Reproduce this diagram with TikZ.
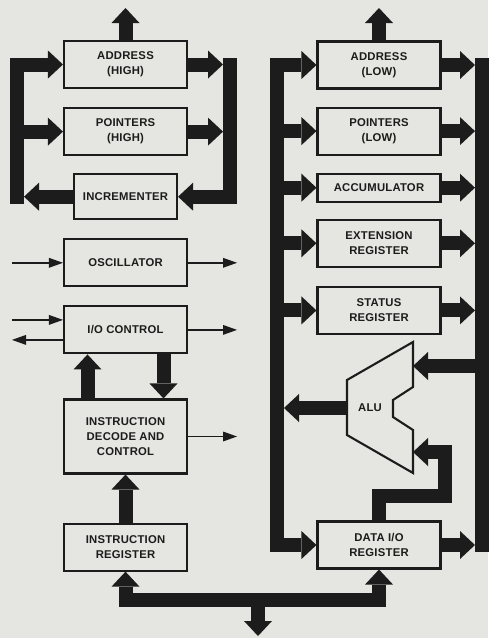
\documentclass[tikz,border=0pt]{standalone}
\usepackage{fontspec}
\newfontfamily\blockfont{Liberation Sans}[LetterSpace=2]
\usepackage{tikz}
\usetikzlibrary{arrows.meta, positioning}
\definecolor{paper}{RGB}{229,229,225}
\definecolor{ink}{RGB}{28,28,28}

\begin{document}
\begin{tikzpicture}[x=1pt, y=1pt,
    block/.style={rectangle, draw=ink, line width=2.1pt, minimum width=123pt, minimum height=47pt, align=center, inner sep=2pt, text=ink, font=\blockfont\bfseries\fontsize{11.3}{15}\selectfont},
    bus/.style={draw=ink, line width=14pt, line cap=rect},
    busarr/.style={draw=ink, line width=14pt, -{Triangle[width=28pt, length=15pt, line width=0pt]}},
    sig/.style={draw=ink, line width=1.9pt, -{Triangle[width=10pt, length=14pt, line width=0pt]}},
    node distance=18pt
]
\fill[paper] (0,0) rectangle (488,-638);
\useasboundingbox (0,0) rectangle (488,-638);

\node[block] (adrh) at (125.5,-64.5) {ADDRESS\\(HIGH)};
\node[block, below=of adrh] (ptrh) {POINTERS\\(HIGH)};
\node[block, below=17pt of ptrh, minimum width=103pt, minimum height=45pt] (inc) {INCREMENTER};
\node[block, below=of inc] (osc) {OSCILLATOR};
\node[block, below=of osc] (ioc) {I/O CONTROL};
\node[block, below=44pt of ioc, minimum height=74pt] (idc) {INSTRUCTION\\DECODE AND\\CONTROL};
\node[block, below=48pt of idc] (ir) {INSTRUCTION\\REGISTER};

\node[block] (adrl) at (379,-65) {ADDRESS\\(LOW)};
\node[block, below=17pt of adrl] (ptrl) {POINTERS\\(LOW)};
\node[block, below=17pt of ptrl, minimum height=28pt] (acc) {ACCUMULATOR};
\node[block, below=16pt of acc] (ext) {EXTENSION\\REGISTER};
\node[block, below=of ext] (stat) {STATUS\\REGISTER};
\node[block] (dio) at (379,-545) {DATA I/O\\REGISTER};

\coordinate (alu) at (380,-407.5);
\draw[ink, line width=2.1pt, shift={(alu)}] (-33,27.5) -- (33,65.5) -- (33,20.5) -- (13,7.5) -- (13,-9.5) -- (33,-22.5) -- (33,-65.5) -- (-33,-27.5) -- cycle;
\node[text=ink, font=\blockfont\bfseries\fontsize{11.3}{15}\selectfont] (alutxt) at (370,-408) {ALU};
\coordinate (aluin) at (413,-366);
\coordinate (aluout) at (347,-408);
\coordinate (aluback) at (413,-452);

\coordinate (top) at (0,-8);
\coordinate (hlbar) at (17,0);
\coordinate (hlbedge) at (24,0);
\coordinate (hrbar) at (230,0);
\coordinate (hrbedge) at (223,0);
\coordinate (sigin) at (12,0);
\coordinate (sigout) at (237,0);
\coordinate (lbar) at (277,0);
\coordinate (lbedge) at (284,0);
\coordinate (rbar) at (482,0);
\coordinate (rbedge) at (475,0);
\coordinate (bbus) at (0,-600);
\coordinate (dout) at (258,-636);

\draw[busarr] (adrh.north) -- (adrh.north |- top);
\draw[busarr] (adrl.north) -- (adrl.north |- top);

\draw[bus] (adrh.west -| hlbar) -- (inc.west -| hlbar);
\draw[bus] (adrh.east -| hrbar) -- (inc.east -| hrbar);
\draw[busarr] (adrh.west -| hlbar) -- (adrh.west);
\draw[busarr] (ptrh.west -| hlbar) -- (ptrh.west);
\draw[busarr] (adrh.east) -- (adrh.east -| hrbedge);
\draw[busarr] (ptrh.east) -- (ptrh.east -| hrbedge);
\draw[busarr] (inc.east -| hrbar) -- (inc.east);
\draw[busarr] (inc.west) -- (inc.west -| hlbedge);

\draw[sig] (osc.west -| sigin) -- (osc.west);
\draw[sig] (osc.east) -- (osc.east -| sigout);
\draw[sig] ([yshift=10pt]ioc.west -| sigin) -- ([yshift=10pt]ioc.west);
\draw[sig] ([yshift=-10pt]ioc.west) -- ([yshift=-10pt]ioc.west -| sigin);
\draw[sig] (ioc.east) -- (ioc.east -| sigout);
\draw[sig] (idc.east) -- (idc.east -| sigout);

\draw[busarr] ([xshift=-38pt]idc.north) -- ([xshift=-38pt]ioc.south);
\draw[busarr] ([xshift=38pt]ioc.south) -- ([xshift=38pt]idc.north);
\draw[busarr] (ir.north) -- (idc.south);

\draw[bus] (adrl.west -| lbar) -- (dio.west -| lbar);
\draw[bus] (adrl.east -| rbar) -- (dio.east -| rbar);
\foreach \reg in {adrl, ptrl, acc, ext, stat, dio} {
  \draw[busarr] (\reg.west -| lbar) -- (\reg.west);
  \draw[busarr] (\reg.east) -- (\reg.east -| rbedge);
}
\draw[busarr] (aluin -| rbar) -- (aluin);
\draw[busarr] (aluout) -- (aluout -| lbedge);
\draw[busarr] (dio.north) -- ++(0,24) -| ([xshift=32pt]aluback) -- (aluback);

\draw[bus] (ir.south |- bbus) -- (dio.south |- bbus);
\draw[busarr] (ir.south |- bbus) -- (ir.south);
\draw[busarr] (dio.south |- bbus) -- (dio.south);
\draw[busarr] (dout |- bbus) -- (dout);
\end{tikzpicture}
\end{document}
